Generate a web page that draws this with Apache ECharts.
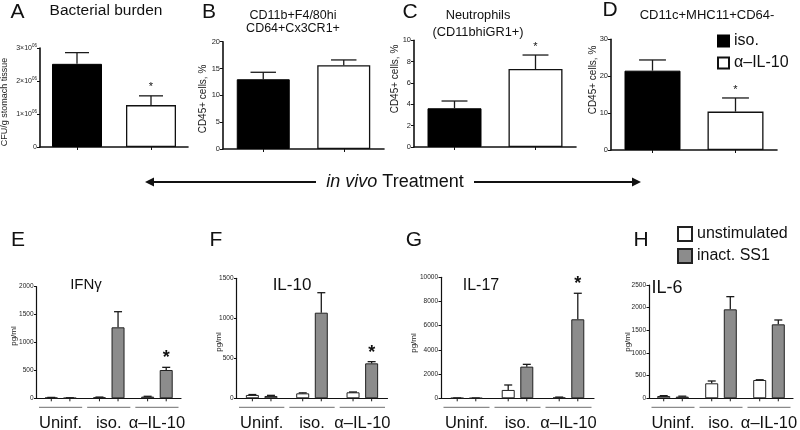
<!DOCTYPE html>
<html><head><meta charset="utf-8">
<script src="https://cdn.jsdelivr.net/npm/echarts@6/dist/echarts.min.js"></script>
<style>html,body{margin:0;padding:0;background:#fff}#c{width:800px;height:430px}</style>
</head><body><div id="c"></div>
<script>
const FONT = '"Liberation Sans", Arial, Helvetica, sans-serif';

// ---------- top row: in vivo treatment ----------
const topCats = ['iso.', 'α–IL-10'];
const aVals = [2.52e6, 1.27e6], aSem = [0.34e6, 0.28e6], aSig = [0, 1];
const bVals = [13.0, 15.6],     bSem = [1.3, 1.0],       bSig = [0, 0];
const cVals = [3.63, 7.31],     cSem = [0.68, 1.31],     cSig = [0, 1];
const dVals = [21.5, 10.4],     dSem = [2.9, 3.7],       dSig = [0, 1];
const topMax = [3e6, 20, 10, 30], topStep = [1e6, 5, 2, 10];

// ---------- bottom row: ex vivo cytokines ----------
const botCats = ['Uninf.', 'iso.', 'α–IL-10'];
const eUn = [12, 18, 30],    eUnSem = [4, 4, 6],     eIn = [6, 1272, 507],   eInSem = [3, 280, 48],   eSig = [0, 0, 1];
const fUn = [42, 62, 75],    fUnSem = [5, 6, 4],     fIn = [29, 1070, 437],  fInSem = [8, 250, 21],   fSig = [0, 0, 1];
const gUn = [20, 690, 60],   gUnSem = [10, 410, 40], gIn = [15, 2617, 6530], gInSem = [10, 190, 2150], gSig = [0, 0, 1];
const hUn = [51, 331, 404],  hUnSem = [8, 51, 5],    hIn = [37, 1963, 1632], hInSem = [10, 280, 96],  hSig = [0, 0, 0];
const botMax = [2000, 1500, 10000, 2500], botStep = [500, 500, 2000, 500];

// ---------- layout ----------
const grids = [
  {left: 40,    top: 48,    width: 148,   height: 99},
  {left: 223,   top: 41.7,  width: 161,   height: 107.3},
  {left: 414,   top: 40.3,  width: 162,   height: 106.7},
  {left: 611,   top: 39.3,  width: 166,   height: 110.7},
  {left: 36.5,  top: 286.7, width: 144.5, height: 111.6},
  {left: 236.5, top: 278.3, width: 151,   height: 120},
  {left: 441,   top: 277.3, width: 153,   height: 121},
  {left: 649,   top: 285,   width: 144,   height: 113.3}
].map(g => Object.assign({outerBoundsMode: 'none', containLabel: false}, g));

const topPanels = [
  {vals: aVals, sem: aSem, sig: aSig, bw: 50},
  {vals: bVals, sem: bSem, sig: bSig, bw: 53},
  {vals: cVals, sem: cSem, sig: cSig, bw: 54},
  {vals: dVals, sem: dSem, sig: dSig, bw: 56}
];
const botPanels = [
  {un: eUn, unS: eUnSem, inn: eIn, inS: eInSem, sig: eSig},
  {un: fUn, unS: fUnSem, inn: fIn, inS: fInSem, sig: fSig},
  {un: gUn, unS: gUnSem, inn: gIn, inS: gInSem, sig: gSig},
  {un: hUn, unS: hUnSem, inn: hIn, inS: hInSem, sig: hSig}
];

const BW = 13, GAP = 0.43, OFF = (BW + BW * GAP) / 2;

function errSeries(gi, vals, sems, sig, offset, capW, starSize, starGap, tick) {
  return {
    type: 'custom', xAxisIndex: gi, yAxisIndex: gi, z: 5, silent: true, clip: false,
    data: vals.map((v, i) => [i, v, sems[i], sig[i]]),
    renderItem(params, api) {
      const i = api.value(0), v = api.value(1), s = api.value(2), st = api.value(3);
      const p0 = api.coord([i, 0]), p1 = api.coord([i, v]), p2 = api.coord([i, v + s]);
      const x = p0[0] + offset;
      const ls = {stroke: '#1a1a1a', lineWidth: 1.3};
      const ch = [
        {type: 'line', shape: {x1: x, y1: p1[1], x2: x, y2: p2[1]}, style: ls},
        {type: 'line', shape: {x1: x - capW / 2, y1: p2[1], x2: x + capW / 2, y2: p2[1]}, style: ls}
      ];
      if (tick) ch.push({type: 'line', shape: {x1: x, y1: p0[1], x2: x, y2: p0[1] + 3}, style: {stroke: '#1a1a1a', lineWidth: 1}});
      if (st) ch.push({type: 'text', x: x, y: p2[1] - starGap,
        style: {text: '*', fontSize: starSize, fontFamily: FONT, fontWeight: tick ? 'bold' : 'normal', fill: '#111', align: 'center', verticalAlign: 'top'}});
      return {type: 'group', children: ch};
    }
  };
}
function groupLines(gi) {
  return {
    type: 'custom', xAxisIndex: gi, yAxisIndex: gi, silent: true, clip: false,
    data: botCats.map((c, i) => [i, 0]),
    renderItem(params, api) {
      const p = api.coord([api.value(0), 0]);
      const band = api.size([1, 0])[0];
      return {type: 'line', shape: {x1: p[0] - band / 2 + 2.5, y1: p[1] + 9, x2: p[0] + band / 2 - 2.5, y2: p[1] + 9},
        style: {stroke: '#8a8a8a', lineWidth: 1.2}};
    }
  };
}

const xAxis = [], yAxis = [], series = [];
const axLine = w => ({show: true, lineStyle: {color: '#111', width: w}});
topPanels.forEach((p, k) => {
  xAxis.push({type: 'category', gridIndex: k, data: topCats, axisLine: axLine(1.6),
    axisTick: {show: true, alignWithLabel: true, interval: 0, length: 3, lineStyle: {color: '#111'}}, axisLabel: {show: false}, splitLine: {show: false}});
  yAxis.push({type: 'value', gridIndex: k, min: 0, max: topMax[k], interval: topStep[k], axisLine: axLine(1.6),
    axisTick: {show: true, length: 3, lineStyle: {color: '#111'}}, splitLine: {show: false},
    axisLabel: k === 0 ? {fontSize: 7, color: '#222', fontFamily: FONT, margin: 3,
      formatter: v => v === 0 ? '0' : (v / 1e6) + '×10{s|06}', rich: {s: {fontSize: 4.5, verticalAlign: 'top', color: '#222', padding: [0, 0, 4, 0]}}}
      : {fontSize: 7.5, color: '#222', fontFamily: FONT, margin: 3, formatter: v => String(v)}});
  series.push({type: 'bar', name: 'iso.', xAxisIndex: k, yAxisIndex: k, data: [p.vals[0], '-'], barWidth: p.bw, barGap: '-100%',
    itemStyle: {color: '#000', borderColor: '#000', borderWidth: 1}, silent: true});
  series.push({type: 'bar', name: 'α–IL-10', xAxisIndex: k, yAxisIndex: k, data: ['-', p.vals[1]], barWidth: p.bw, barGap: '-100%',
    itemStyle: {color: '#fff', borderColor: '#111', borderWidth: 1.3}, silent: true});
  series.push(errSeries(k, p.vals, p.sem, p.sig, 0, p.bw * 0.48, 11, 14, false));
});
botPanels.forEach((p, j) => {
  const k = j + 4;
  xAxis.push({type: 'category', gridIndex: k, data: botCats, axisLine: axLine(1.2), axisTick: {show: false},
    axisLabel: {interval: 0, hideOverlap: false, fontSize: 16.5, color: '#111', fontFamily: FONT, margin: 17}, splitLine: {show: false}});
  yAxis.push({type: 'value', gridIndex: k, min: 0, max: botMax[j], interval: botStep[j], axisLine: axLine(1.2),
    axisTick: {show: true, length: 2.5, lineStyle: {color: '#111'}}, splitLine: {show: false},
    axisLabel: {fontSize: 6.5, color: '#222', fontFamily: FONT, margin: 3, formatter: v => String(v)}});
  series.push({type: 'bar', name: 'unstimulated', xAxisIndex: k, yAxisIndex: k, data: p.un, barWidth: BW, barGap: (GAP * 100) + '%',
    itemStyle: {color: '#fff', borderColor: '#222', borderWidth: 1}, silent: true});
  series.push({type: 'bar', name: 'inact. SS1', xAxisIndex: k, yAxisIndex: k, data: p.inn, barWidth: BW, barGap: (GAP * 100) + '%',
    itemStyle: {color: '#8c8c8c', borderColor: '#222', borderWidth: 1}, silent: true});
  series.push(errSeries(k, p.un, p.unS, [0, 0, 0], -OFF, 8, 18, 18, true));
  series.push(errSeries(k, p.inn, p.inS, p.sig, OFF, 8, 18, 18, true));
  series.push(groupLines(k));
});

const txt = (x, y, text, size, extra) => ({type: 'text', x, y, silent: true,
  style: Object.assign({text, fontSize: size, fontFamily: FONT, fill: '#111', align: 'center', verticalAlign: 'middle'}, extra || {})});
const vtxt = (x, y, text, size) => ({type: 'text', x, y, rotation: Math.PI / 2, silent: true,
  style: {text, fontSize: size, fontFamily: FONT, fill: '#222', align: 'center', verticalAlign: 'middle'}});

const graphic = [
  txt(17.5, 12.5, 'A', 21), txt(209, 12, 'B', 21), txt(410, 12, 'C', 21), txt(610, 10, 'D', 21),
  txt(18, 240, 'E', 21), txt(216, 240, 'F', 21), txt(414, 240, 'G', 21), txt(641, 240, 'H', 21),
  txt(106, 11, 'Bacterial burden', 15.5),
  txt(293, 22, 'CD11b+F4/80hi\nCD64+Cx3CR1+', 12.5, {lineHeight: 13}),
  txt(478, 23.5, 'Neutrophils\n(CD11bhiGR1+)', 12.8, {lineHeight: 17}),
  txt(707, 15, 'CD11c+MHC11+CD64-', 13),
  txt(86, 285, 'IFNγ', 15), txt(292, 285, 'IL-10', 17), txt(481, 286, 'IL-17', 16), txt(667, 288, 'IL-6', 18),
  vtxt(5, 102, 'CFU/g stomach tissue', 9), vtxt(203, 99, 'CD45+ cells, %', 10), vtxt(395, 79, 'CD45+ cells, %', 10),
  vtxt(593, 80, 'CD45+ cells, %', 10),
  vtxt(14, 336, 'pg/ml', 8), vtxt(219, 342, 'pg/ml', 8), vtxt(414, 343, 'pg/ml', 8), vtxt(628, 342, 'pg/ml', 8),
  // in vivo arrow
  {type: 'line', silent: true, shape: {x1: 150, y1: 182, x2: 316, y2: 182}, style: {stroke: '#111', lineWidth: 2}},
  {type: 'line', silent: true, shape: {x1: 474, y1: 182, x2: 636, y2: 182}, style: {stroke: '#111', lineWidth: 2}},
  {type: 'polygon', silent: true, shape: {points: [[145, 182], [154, 177.5], [154, 186.5]]}, style: {fill: '#111'}},
  {type: 'polygon', silent: true, shape: {points: [[641, 182], [632, 177.5], [632, 186.5]]}, style: {fill: '#111'}},
  txt(395, 182, '{i|in vivo} Treatment', 18, {rich: {i: {fontStyle: 'italic', fontSize: 18, fontFamily: FONT, fill: '#111'}}})
];

const chart = echarts.init(document.getElementById('c'), null, {renderer: 'canvas'});
chart.setOption({
  backgroundColor: '#fff', animation: false,
  grid: grids, xAxis, yAxis, series, graphic,
  legend: [
    {data: ['iso.', 'α–IL-10'], orient: 'vertical', left: 717, top: 33, padding: 0, icon: 'rect', itemWidth: 11, itemHeight: 11,
      itemGap: 6, selectedMode: false, textStyle: {fontSize: 16, fontFamily: FONT, color: '#111'}},
    {data: ['unstimulated', 'inact. SS1'], orient: 'vertical', left: 677, top: 226, padding: 0, icon: 'rect', itemWidth: 14, itemHeight: 14,
      itemGap: 6, selectedMode: false, textStyle: {fontSize: 16, fontFamily: FONT, color: '#111'}}
  ]
});
</script></body></html>
